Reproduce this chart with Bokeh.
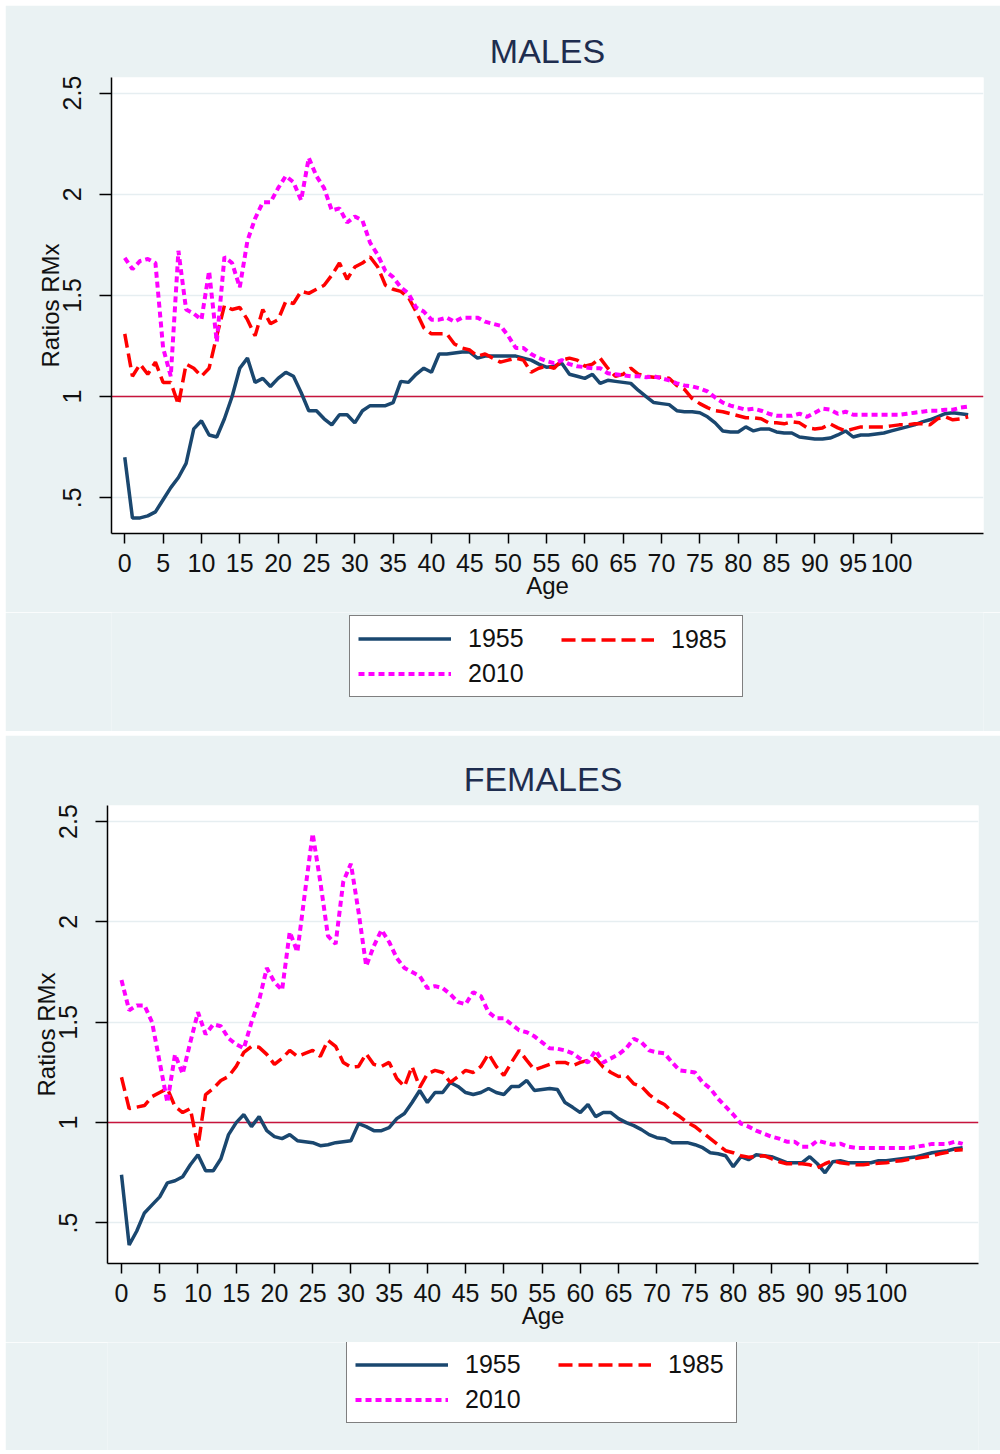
from bokeh.plotting import figure
from bokeh.layouts import column
from bokeh.models import Range1d, FixedTicker, Span, Legend, LegendItem
from bokeh.embed import file_html
from bokeh.resources import INLINE

ages = list(range(0, 111))

male_1955 = [0.70, 0.40, 0.40, 0.41, 0.43, 0.49, 0.55, 0.60, 0.67, 0.84,
             0.88, 0.81, 0.80, 0.89, 1.00, 1.14, 1.19, 1.07, 1.09, 1.05,
             1.09, 1.12, 1.10, 1.02, 0.93, 0.93, 0.89, 0.86, 0.91, 0.91,
             0.87, 0.93, 0.955, 0.955, 0.955, 0.97, 1.075, 1.07, 1.11, 1.14,
             1.12, 1.21, 1.21, 1.215, 1.22, 1.22, 1.19, 1.20, 1.20, 1.20,
             1.20, 1.20, 1.19, 1.18, 1.16, 1.145, 1.15, 1.165, 1.11, 1.10,
             1.09, 1.11, 1.065, 1.08, 1.075, 1.07, 1.065, 1.03, 1.00, 0.97,
             0.965, 0.96, 0.93, 0.925, 0.925, 0.92, 0.90, 0.87, 0.83, 0.825,
             0.825, 0.85, 0.83, 0.84, 0.84, 0.825, 0.82, 0.82, 0.80, 0.795,
             0.79, 0.79, 0.795, 0.81, 0.83, 0.80, 0.81, 0.81, 0.815, 0.82,
             0.83, 0.84, 0.85, 0.86, 0.875, 0.885, 0.90, 0.915, 0.92, 0.915,
             0.91]
male_1985 = [1.31, 1.10, 1.16, 1.11, 1.17, 1.07, 1.07, 0.96, 1.16, 1.14,
             1.10, 1.14, 1.30, 1.45, 1.43, 1.44, 1.38, 1.30, 1.43, 1.36,
             1.38, 1.47, 1.46, 1.52, 1.51, 1.53, 1.55, 1.60, 1.66, 1.58,
             1.64, 1.66, 1.69, 1.64, 1.55, 1.53, 1.52, 1.49, 1.42, 1.34,
             1.31, 1.31, 1.31, 1.26, 1.24, 1.23, 1.20, 1.21, 1.19, 1.17,
             1.18, 1.19, 1.18, 1.12, 1.14, 1.15, 1.14, 1.18, 1.19, 1.18,
             1.15, 1.16, 1.19, 1.14, 1.10, 1.11, 1.14, 1.11, 1.10, 1.095,
             1.095, 1.09, 1.055, 1.035, 0.99, 0.965, 0.945, 0.93, 0.925, 0.915,
             0.905, 0.895, 0.895, 0.89, 0.87, 0.87, 0.865, 0.875, 0.87, 0.845,
             0.84, 0.845, 0.865, 0.845, 0.83, 0.84, 0.85, 0.85, 0.85, 0.85,
             0.855, 0.86, 0.86, 0.865, 0.865, 0.86, 0.89, 0.90, 0.885, 0.89,
             0.90]
male_2010 = [1.685, 1.63, 1.67, 1.68, 1.66, 1.24, 1.10, 1.72, 1.43, 1.41,
             1.38, 1.62, 1.27, 1.69, 1.66, 1.54, 1.77, 1.88, 1.96, 1.96,
             2.03, 2.09, 2.06, 1.97, 2.18, 2.09, 2.03, 1.92, 1.93, 1.86,
             1.89, 1.87, 1.76, 1.70, 1.62, 1.59, 1.54, 1.51, 1.44, 1.42,
             1.38, 1.38, 1.39, 1.37, 1.39, 1.39, 1.39, 1.37, 1.36, 1.35,
             1.30, 1.24, 1.24, 1.21, 1.19, 1.175, 1.165, 1.18, 1.16, 1.15,
             1.145, 1.14, 1.14, 1.115, 1.11, 1.105, 1.10, 1.10, 1.095, 1.10,
             1.09, 1.08, 1.065, 1.055, 1.05, 1.04, 1.025, 0.995, 0.97, 0.955,
             0.945, 0.935, 0.94, 0.93, 0.915, 0.905, 0.905, 0.905, 0.915, 0.90,
             0.92, 0.94, 0.935, 0.915, 0.925, 0.91, 0.91, 0.91, 0.91, 0.91,
             0.91, 0.91, 0.915, 0.92, 0.925, 0.93, 0.93, 0.935, 0.935, 0.945,
             0.95]

female_1955 = [0.74, 0.39, 0.46, 0.55, 0.59, 0.63, 0.70, 0.71, 0.73, 0.79,
               0.84, 0.76, 0.76, 0.82, 0.94, 1.00, 1.04, 0.98, 1.03, 0.96,
               0.93, 0.92, 0.94, 0.91, 0.905, 0.90, 0.885, 0.89, 0.90, 0.905,
               0.91, 0.995, 0.98, 0.96, 0.96, 0.975, 1.02, 1.045, 1.10, 1.16,
               1.10, 1.15, 1.15, 1.20, 1.18, 1.15, 1.14, 1.15, 1.17, 1.15,
               1.14, 1.18, 1.18, 1.21, 1.16, 1.165, 1.17, 1.165, 1.10, 1.076,
               1.05, 1.09, 1.03, 1.05, 1.05, 1.02, 1.00, 0.985, 0.965, 0.94,
               0.925, 0.92, 0.90, 0.90, 0.90, 0.89, 0.875, 0.85, 0.845, 0.835,
               0.78, 0.83, 0.815, 0.84, 0.835, 0.83, 0.815, 0.80, 0.80, 0.80,
               0.83, 0.795, 0.75, 0.805, 0.81, 0.80, 0.80, 0.80, 0.80, 0.81,
               0.81, 0.815, 0.82, 0.825, 0.83, 0.84, 0.85, 0.855, 0.86, 0.87,
               0.875]
female_1985 = [1.226, 1.07, 1.077, 1.085, 1.13, 1.15, 1.17, 1.08, 1.05, 1.07,
               0.88, 1.14, 1.17, 1.21, 1.23, 1.28, 1.35, 1.38, 1.375, 1.34,
               1.29, 1.32, 1.36, 1.33, 1.345, 1.36, 1.33, 1.41, 1.38, 1.30,
               1.276, 1.28, 1.343, 1.29, 1.28, 1.30, 1.22, 1.18, 1.28, 1.176,
               1.243, 1.26, 1.25, 1.20, 1.23, 1.26, 1.25, 1.28, 1.343, 1.28,
               1.235, 1.30, 1.36, 1.31, 1.263, 1.276, 1.29, 1.30, 1.30, 1.284,
               1.30, 1.31, 1.32, 1.276, 1.25, 1.23, 1.235, 1.193, 1.18, 1.14,
               1.11, 1.09, 1.055, 1.03, 1.00, 0.98, 0.95, 0.92, 0.89, 0.86,
               0.85, 0.835, 0.828, 0.83, 0.835, 0.82, 0.805, 0.795, 0.795, 0.795,
               0.79, 0.775, 0.795, 0.81, 0.80, 0.795, 0.79, 0.79, 0.795, 0.797,
               0.80, 0.807, 0.81, 0.817, 0.822, 0.828, 0.835, 0.845, 0.852, 0.862,
               0.865]
female_2010 = [1.71, 1.56, 1.584, 1.584, 1.50, 1.30, 1.10, 1.34, 1.243, 1.40,
               1.55, 1.44, 1.49, 1.48, 1.42, 1.39, 1.37, 1.50, 1.61, 1.77,
               1.70, 1.66, 1.95, 1.85, 2.15, 2.44, 2.20, 1.93, 1.89, 2.20,
               2.29, 2.05, 1.78, 1.88, 1.96, 1.90, 1.82, 1.77, 1.75, 1.73,
               1.67, 1.68, 1.67, 1.64, 1.60, 1.59, 1.65, 1.63, 1.55, 1.52,
               1.52, 1.49, 1.46, 1.45, 1.43, 1.40, 1.37, 1.368, 1.36, 1.345,
               1.318, 1.30, 1.36, 1.30, 1.32, 1.34, 1.37, 1.418, 1.40, 1.36,
               1.35, 1.345, 1.30, 1.26, 1.255, 1.25, 1.20, 1.17, 1.12, 1.08,
               1.04, 0.995, 0.98, 0.96, 0.945, 0.93, 0.92, 0.905, 0.905, 0.88,
               0.88, 0.91, 0.90, 0.89, 0.895, 0.88, 0.874, 0.874, 0.874, 0.874,
               0.874, 0.874, 0.874, 0.874, 0.88, 0.886, 0.894, 0.894, 0.894, 0.905,
               0.894]

series_labels = ["1955", "1985", "2010"]
x_ticks = list(range(0, 101, 5))
y_ticks = [0.5, 1.0, 1.5, 2.0, 2.5]
y_tick_labels = {0.5: ".5", 1.0: "1", 1.5: "1.5", 2.0: "2", 2.5: "2.5"}

BG = "#EAF2F3"
FONT = "Liberation Sans"
W = 995
NAN = float("nan")

STYLES = [dict(line_color="#1A476F", line_width=3.5),
          dict(line_color="#FF0000", line_width=3.5, line_dash="14 6"),
          dict(line_color="#FF00FF", line_width=4, line_dash="6 4")]


def make_chart(title, s1955, s1985, s2010, x_rng, y_rng, height, left, right, top, bottom):
    p = figure(width=W, height=height, output_backend="svg", toolbar_location=None,
               x_range=Range1d(*x_rng), y_range=Range1d(*y_rng),
               min_border_left=left, min_border_right=right,
               min_border_top=top, min_border_bottom=bottom, title=title)
    p.background_fill_color = "white"
    p.border_fill_color = BG
    p.outline_line_color = None

    p.title.text_font = FONT
    p.title.text_font_size = "34px"
    p.title.text_font_style = "normal"
    p.title.text_color = "#1E2D4F"
    p.title.align = "center"
    p.title.standoff = 15

    p.xgrid.visible = False
    p.ygrid.ticker = FixedTicker(ticks=y_ticks)
    p.ygrid.grid_line_color = "#E6EEF1"
    p.ygrid.grid_line_width = 1.5

    for ax in (p.xaxis[0], p.yaxis[0]):
        ax.axis_line_color = "black"
        ax.axis_line_width = 1.5
        ax.major_tick_line_color = "black"
        ax.major_tick_line_width = 1.5
        ax.major_tick_in = 0
        ax.minor_tick_line_color = None
        ax.major_label_text_font = FONT
        ax.major_label_text_font_size = "25px"
        ax.major_label_text_color = "#111111"
        ax.axis_label_text_font = FONT
        ax.axis_label_text_font_size = "24px"
        ax.axis_label_text_font_style = "normal"
        ax.axis_label_text_color = "#111111"

    p.xaxis.ticker = FixedTicker(ticks=x_ticks)
    p.xaxis.axis_label = "Age"
    p.xaxis.major_tick_out = 10
    p.xaxis.major_label_standoff = 10
    p.xaxis.axis_label_standoff = -3

    p.yaxis.ticker = FixedTicker(ticks=y_ticks)
    p.yaxis.major_label_overrides = y_tick_labels
    p.yaxis.major_label_orientation = "vertical"
    p.yaxis.axis_label = "Ratios RMx"
    p.yaxis.major_tick_out = 12
    p.yaxis.major_label_standoff = 18
    p.yaxis.axis_label_standoff = -3

    ref = Span(location=1.0, dimension="width", line_color="#C8143C", line_width=1.5,
               level="underlay")
    p.add_layout(ref)

    for ys, st in zip((s1955, s1985, s2010), STYLES):
        p.line(ages, ys, **st)
    return p


def make_legend(height, loc_a, loc_b, label_w):
    # legend-only strip below each chart (its frame is aligned with the chart frame)
    lp = figure(width=W, height=height, output_backend="svg", toolbar_location=None,
                x_range=Range1d(0, 1), y_range=Range1d(0, 1),
                x_axis_location=None, y_axis_location=None, min_border=0)
    lp.background_fill_color = BG
    lp.border_fill_color = BG
    lp.outline_line_color = None
    lp.grid.visible = False
    rs = [lp.line([NAN], [NAN], **st) for st in STYLES]

    def style(lg):
        lg.label_text_font = FONT
        lg.label_text_font_size = "25px"
        lg.label_text_color = "#111111"
        lg.glyph_width = 93
        lg.glyph_height = 25
        lg.label_height = 25
        lg.label_standoff = 17
        lg.spacing = 6
        lg.padding = 8
        lg.margin = 0

    leg_a = Legend(items=[LegendItem(label=series_labels[0], renderers=[rs[0]]),
                          LegendItem(label=series_labels[2], renderers=[rs[2]])],
                   location=loc_a)
    style(leg_a)
    leg_a.label_width = label_w
    leg_a.border_line_color = "black"
    leg_a.border_line_width = 1.5
    leg_a.background_fill_color = "white"
    leg_a.background_fill_alpha = 1.0

    leg_b = Legend(items=[LegendItem(label=series_labels[1], renderers=[rs[1]])],
                   location=loc_b)
    style(leg_b)
    leg_b.border_line_color = None
    leg_b.background_fill_alpha = 0.0

    lp.add_layout(leg_a)
    lp.add_layout(leg_b)
    return lp


p1 = make_chart("MALES", male_1955, male_1985, male_2010,
                (-1.73, 112.0), (0.323, 2.577), 607, 106, 17, 72, 79)
l1 = make_legend(119, (238, 34), (450, 77), 266)
p2 = make_chart("FEMALES", female_1955, female_1985, female_2010,
                (-1.83, 112.07), (0.298, 2.58), 607, 102, 22, 70, 79)
l2 = make_legend(108, (239, 27), (451, 71), 263)

layout = column(column(p1, l1, spacing=0), column(p2, l2, spacing=0),
                spacing=4, margin=(5, 0, 0, 5))

open("out.html", "w").write(file_html(layout, INLINE))
